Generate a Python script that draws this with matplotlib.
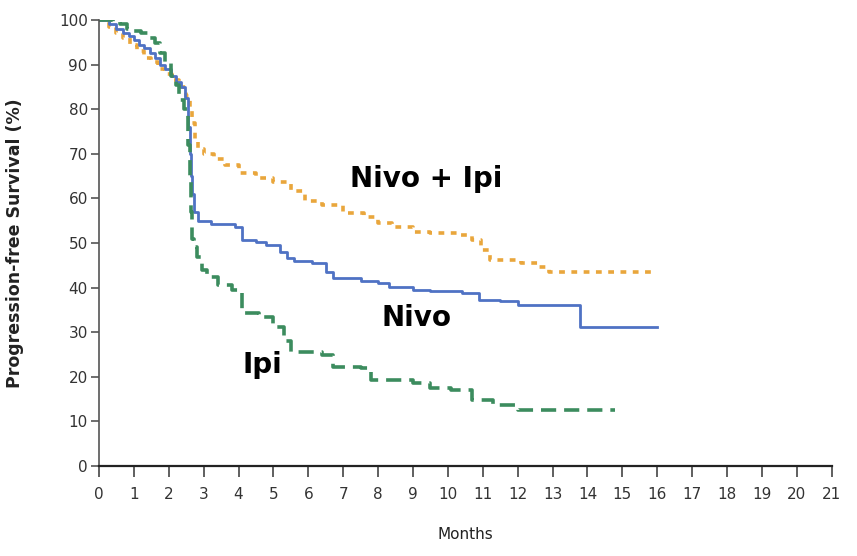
import matplotlib
matplotlib.use("Agg")
import matplotlib.pyplot as plt

# Kaplan-Meier style step data (months, % PFS)
combo_t = [0, 0.3, 0.5, 0.7, 0.9, 1.1, 1.3, 1.5, 1.7, 1.9, 2.1, 2.3, 2.5, 2.62, 2.68,
           2.74, 2.85, 3.0, 3.3, 3.6, 4.0, 4.5, 5.0, 5.5, 5.9, 6.4, 7.0, 7.6, 8.0, 8.4,
           9.0, 9.5, 10.3, 10.7, 10.95, 11.2, 12.1, 12.6, 12.9, 16.0]
combo_s = [100, 98.5, 97, 96, 94.5, 93, 91.5, 90.5, 89, 88, 86.5, 85, 83, 80, 77,
           73, 71, 70, 68.8, 67.5, 65.7, 64.5, 63.7, 61.7, 59.4, 58.5, 56.7, 55.8, 54.5, 53.6,
           52.5, 52.2, 51.8, 50.7, 48.4, 46.2, 45.5, 44.5, 43.5, 43.5]

nivo_t = [0, 0.3, 0.5, 0.7, 0.85, 1.0, 1.15, 1.3, 1.45, 1.6, 1.75, 1.9, 2.05, 2.2,
          2.35, 2.46, 2.55, 2.6, 2.64, 2.68, 2.72, 2.85, 3.2, 3.9, 4.1, 4.5, 4.8, 5.2,
          5.4, 5.6, 6.1, 6.5, 6.7, 7.5, 8.0, 8.3, 9.0, 9.5, 10.4, 10.9, 11.5, 12.0,
          13.8, 16.0]
nivo_s = [100, 99, 98, 97, 96.5, 95.5, 94.5, 93.7, 92.5, 91.5, 90, 89, 87.5, 86,
          85, 82.5, 76, 70, 65, 61, 57, 55, 54.3, 53.6, 50.7, 50.2, 49.5, 48,
          46.6, 46, 45.5, 43.5, 42.2, 41.5, 41, 40.2, 39.5, 39.2, 38.8, 37.2, 37, 36.1,
          31.2, 31.2]

ipi_t = [0, 0.4, 0.6, 0.8, 1.0, 1.2, 1.4, 1.6, 1.75, 1.9, 2.05, 2.2, 2.3, 2.45,
         2.55, 2.6, 2.64, 2.68, 2.72, 2.8, 2.95, 3.1, 3.4, 3.8, 4.1, 4.6, 5.0, 5.3,
         5.5, 6.4, 6.7, 7.5, 7.8, 9.0, 9.5, 10.1, 10.7, 11.3, 12.0, 14.8]
ipi_s = [100, 99.5, 99, 98, 97.5, 97, 96, 94.8, 92.5, 90.5, 87.5, 85.4, 82, 80,
         72, 64, 57, 51, 49, 46.9, 44, 42.4, 40.6, 39.5, 34.3, 33.4, 31.2, 28,
         25.5, 24.9, 22.2, 22, 19.3, 18.6, 17.5, 17, 14.8, 13.7, 12.6, 12.6]

x_ticks = list(range(0, 22))
y_ticks = list(range(0, 101, 10))

fig = plt.figure(figsize=(8.57, 5.56), dpi=100)
ax = fig.add_axes([0.1155, 0.162, 0.855, 0.802])

ax.step(combo_t, combo_s, where="post", color="#E9A63C", lw=2.6,
        dashes=(1.6, 1.8))
ax.step(nivo_t, nivo_s, where="post", color="#4F72C4", lw=2.0)
ax.step(ipi_t, ipi_s, where="post", color="#3C8C5E", lw=2.6,
        dashes=(4.2, 2.2))

ax.set_xlim(0, 21)
ax.set_ylim(0, 100)
ax.set_xticks(x_ticks)
ax.set_yticks(y_ticks)
ax.set_xticklabels([str(v) for v in x_ticks], fontsize=11, color="#333333")
ax.set_yticklabels([str(v) for v in y_ticks], fontsize=11, color="#333333")

for s in ["top", "right"]:
    ax.spines[s].set_visible(False)
ax.spines["left"].set_color("#555555")
ax.spines["left"].set_linewidth(1.2)
ax.spines["bottom"].set_color("#222222")
ax.spines["bottom"].set_linewidth(1.6)
ax.tick_params(axis="x", length=8, width=1.2, color="#444444", pad=7)
ax.tick_params(axis="y", length=6, width=1.2, color="#555555", pad=2)

ax.set_xlabel("Months", fontsize=11, labelpad=18, color="#222222")
ax.set_ylabel("Progression-free Survival (%)", fontsize=12.5, fontweight="bold",
              color="#222222")
ax.yaxis.set_label_coords(-0.102, 0.5)

ax.text(7.2, 64.3, "Nivo + Ipi", fontsize=20, fontweight="bold", ha="left", va="center")
ax.text(8.1, 33.2, "Nivo", fontsize=20, fontweight="bold", ha="left", va="center")
ax.text(4.1, 22.6, "Ipi", fontsize=20, fontweight="bold", ha="left", va="center")

fig.savefig("out.png", dpi=100)
